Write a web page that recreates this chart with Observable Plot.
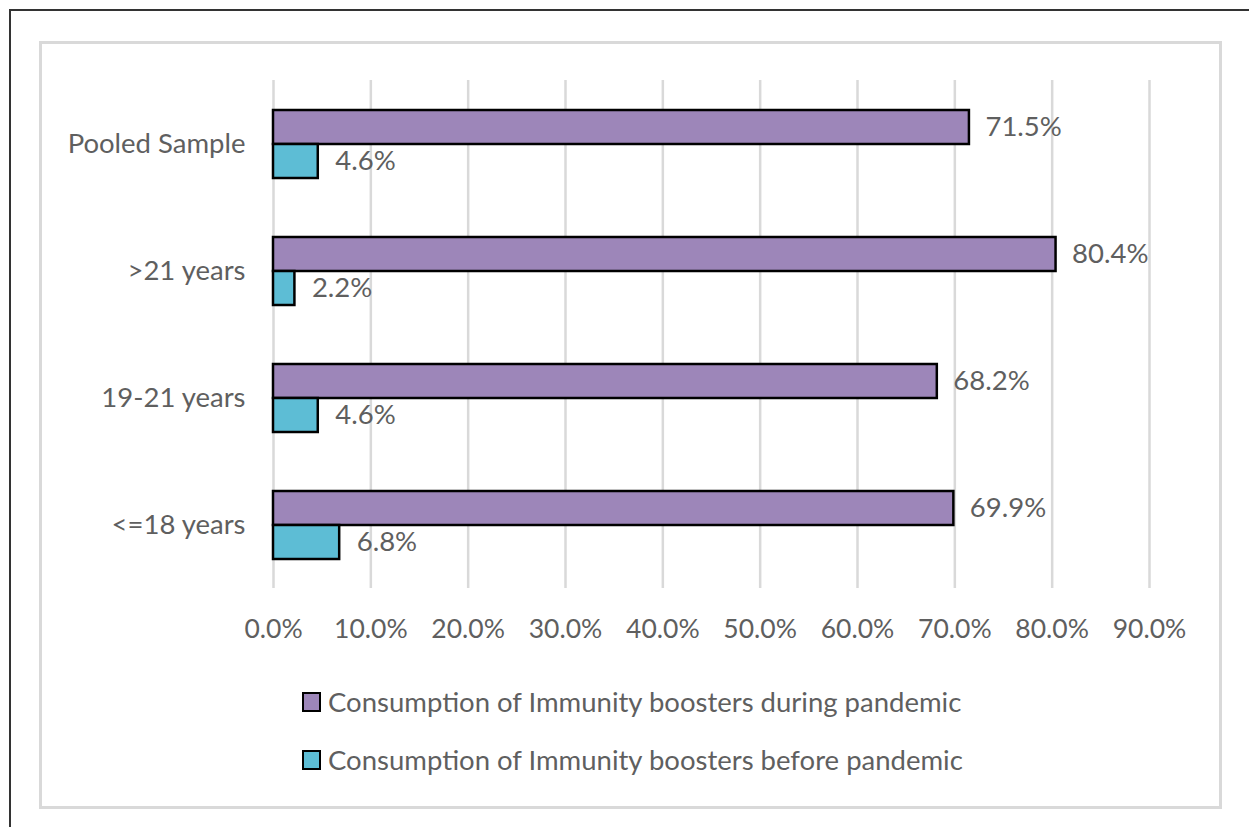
<!DOCTYPE html>
<html>
<head>
<meta charset="utf-8">
<script src="https://cdn.jsdelivr.net/npm/d3@7"></script>
<script src="https://cdn.jsdelivr.net/npm/@observablehq/plot@0.6"></script>
<style>
  html, body { margin: 0; padding: 0; background: #fff; }
  #page { position: relative; width: 1249px; height: 827px; overflow: hidden; font-family: Lato, "Open Sans", sans-serif; }
  #outerTop { position: absolute; left: 10px; top: 9px; width: 1239px; height: 2px; background: #333; }
  #outerLeft { position: absolute; left: 9px; top: 9px; width: 2px; height: 818px; background: #333; }
  #box { position: absolute; left: 39px; top: 41px; width: 1177px; height: 762px; border: 3px solid #d9d9d9; }
  #chart { position: absolute; left: 0; top: 0; }
  .leg { position: absolute; left: 302px; display: flex; align-items: center; font-size: 27.5px; color: #5f5f5f; white-space: nowrap; }
  .sw { width: 15px; height: 16px; border: 2px solid #000; margin-right: 7px; }
</style>
</head>
<body>
<div id="page">
  <div id="outerTop"></div>
  <div id="outerLeft"></div>
  <div id="box"></div>
  <div id="chart"></div>
  <div id="legend"></div>
</div>
<script>
const categories = ["Pooled Sample", ">21 years", "19-21 years", "<=18 years"];
const duringValues = [71.5, 80.4, 68.2, 69.9];
const beforeValues = [4.6, 2.2, 4.6, 6.8];
const seriesNames = ["Consumption of Immunity boosters during pandemic", "Consumption of Immunity boosters before pandemic"];
const seriesColors = ["#9d86b9", "#5dbdd5"];
const xTicks = [0, 10, 20, 30, 40, 50, 60, 70, 80, 90];

const during = categories.map((c, i) => ({cat: c, value: duringValues[i]}));
const before = categories.map((c, i) => ({cat: c, value: beforeValues[i]}));
const fmt = d => d.toFixed(1) + "%";
const textColor = "#5f5f5f";
const half = 34;

const chart = Plot.plot({
  width: 1249,
  height: 827,
  marginLeft: 273,
  marginRight: 100,
  marginTop: 80,
  marginBottom: 239,
  style: {fontFamily: "Lato, 'Open Sans', sans-serif", fontSize: "26px", color: textColor, background: "transparent"},
  x: {domain: [0, 90], axis: null},
  y: {domain: categories, paddingInner: 0.465, paddingOuter: 0.2325, axis: null},
  marks: [
    Plot.gridX(xTicks, {stroke: "#d9d9d9", strokeOpacity: 1, strokeWidth: 2.5}),
    Plot.barX(during, {x: "value", y: "cat", fill: seriesColors[0], stroke: "#000", strokeWidth: 2.5, insetBottom: half}),
    Plot.barX(before, {x: "value", y: "cat", fill: seriesColors[1], stroke: "#000", strokeWidth: 2.5, insetTop: half}),
    Plot.text(during, {x: "value", y: "cat", text: d => fmt(d.value), textAnchor: "start", dx: 16, dy: -17, fill: textColor, fontSize: 27.5}),
    Plot.text(before, {x: "value", y: "cat", text: d => fmt(d.value), textAnchor: "start", dx: 17, dy: 17, fill: textColor, fontSize: 27.5}),
    Plot.axisY({tickSize: 0, tickPadding: 28, fill: textColor, fontSize: 27.5, label: null}),
    Plot.axisX({ticks: xTicks, tickSize: 0, tickPadding: 31, tickFormat: fmt, fill: textColor, fontSize: 26.5, label: null})
  ]
});
document.getElementById("chart").appendChild(chart);

const legend = document.getElementById("legend");
const legendTops = [685, 743];
seriesNames.forEach((name, i) => {
  const row = document.createElement("div");
  row.className = "leg";
  row.style.top = legendTops[i] + "px";
  const sw = document.createElement("div");
  sw.className = "sw";
  sw.style.background = seriesColors[i];
  const label = document.createElement("span");
  label.textContent = name;
  row.appendChild(sw);
  row.appendChild(label);
  legend.appendChild(row);
});
</script>
</body>
</html>
